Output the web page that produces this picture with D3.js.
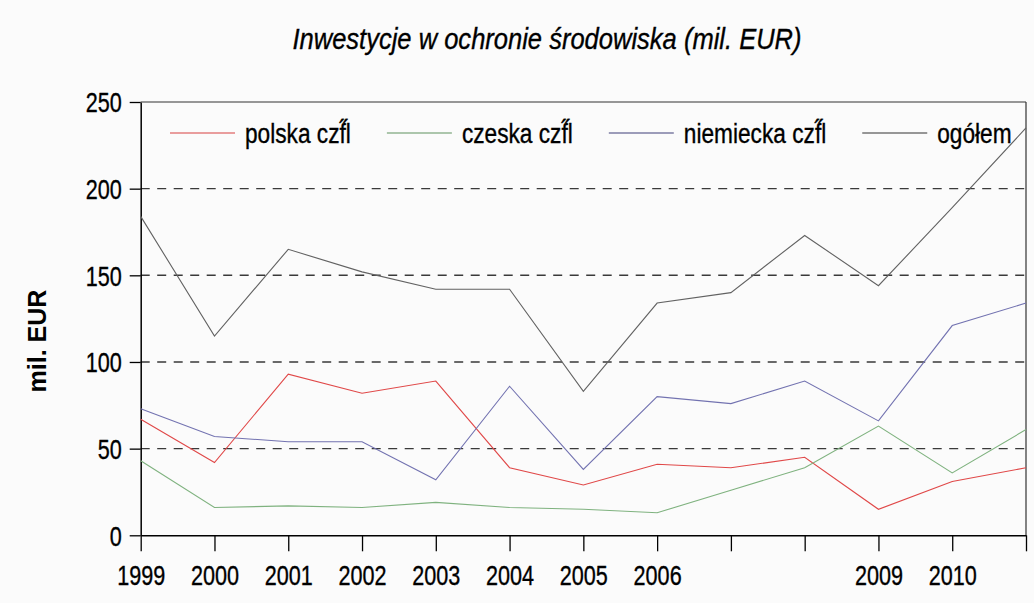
<!DOCTYPE html>
<html>
<head>
<meta charset="utf-8">
<script src="https://cdn.jsdelivr.net/npm/d3@7"></script>
<style>
  html, body { margin: 0; padding: 0; background: #fbfbfb; }
  svg { display: block; }
  text { font-family: "Liberation Sans", Arial, sans-serif; fill: #000; }
  .heavy { stroke: #000; stroke-width: 0.35px; }
</style>
</head>
<body>
<svg id="chart" width="1034" height="603"></svg>
<script>
// ---- data ----
const categories = ["1999","2000","2001","2002","2003","2004","2005","2006","2007","2008","2009","2010","2011"];
const tickLabels = ["1999","2000","2001","2002","2003","2004","2005","2006","","","2009","2010",""];
const seriesNames = ["polska czf\u030Bl", "czeska czf\u030Bl", "niemiecka czf\u030Bl", "ogółem"];
const polska    = [67, 42, 93, 82, 89, 39, 29, 41, 39, 45, 15, 31, 39];
const czeska    = [43, 16, 17, 16, 19, 16, 15, 13, 26, 39, 63, 36, 61];
const niemiecka = [73, 57, 54, 54, 32, 86, 38, 80, 76, 89, 66, 121, 134];
const ogolem    = [184, 115, 165, 152, 142, 142, 83, 134, 140, 173, 144, 189, 235];
const yTicks = [0, 50, 100, 150, 200, 250];
const title = "Inwestycje w ochronie środowiska (mil. EUR)";
const yTitle = "mil. EUR";

const seriesValues = [polska, czeska, niemiecka, ogolem];
const colors = ["#e04848", "#7fb27f", "#7272b0", "#626262"];
const legendColors = ["#d84040", "#5e925e", "#3e3e78", "#333333"];

// horizontal squeeze of text glyphs (reference uses a narrow face)
function squeeze(sel, k) {
  sel.each(function () {
    const w = this.getComputedTextLength();
    if (w > 0) d3.select(this).attr("textLength", w * k).attr("lengthAdjust", "spacingAndGlyphs");
  });
}

const svg = d3.select("#chart");
const L = 140.7, R = 1026, T = 102, B = 535.3;

const x = d3.scalePoint().domain(categories).range([L, R]);
const y = d3.scaleLinear().domain([0, 250]).range([B, T]);

// title
const tt = svg.append("text")
  .attr("x", 547).attr("y", 49)
  .attr("text-anchor", "middle")
  .attr("class", "heavy")
  .style("font-size", "29px").style("font-style", "italic")
  .text(title);
squeeze(tt, 0.88);

// y title
svg.append("text")
  .attr("transform", "translate(46,341) rotate(-90)")
  .attr("text-anchor", "middle")
  .style("font-size", "25px").style("font-weight", "bold")
  .text(yTitle);

// grid lines (dashed)
svg.append("g").selectAll("line")
  .data(yTicks.filter(v => v > 0 && v < 250))
  .join("line")
  .attr("x1", L).attr("x2", R)
  .attr("y1", d => y(d)).attr("y2", d => y(d))
  .attr("stroke", "#3a3a3a").attr("stroke-width", 1.4)
  .attr("stroke-dasharray", "9,7.5");

// frame top and right
svg.append("line").attr("x1", L).attr("x2", R).attr("y1", T).attr("y2", T)
  .attr("stroke", "#333").attr("stroke-width", 1.2);
svg.append("line").attr("x1", R).attr("x2", R).attr("y1", T).attr("y2", B)
  .attr("stroke", "#333").attr("stroke-width", 1.2);

// y axis
const yAxis = svg.append("g")
  .attr("transform", `translate(${L},0)`)
  .call(d3.axisLeft(y).tickValues(yTicks).tickSize(11).tickPadding(8).tickSizeOuter(0));
yAxis.select(".domain").attr("stroke", "#000").attr("stroke-width", 1.5);
yAxis.selectAll(".tick line").attr("stroke", "#000").attr("stroke-width", 1.3);
yAxis.selectAll(".tick text")
  .style("font-family", '"Liberation Sans", Arial, sans-serif')
  .style("font-size", "27px").attr("dy", "0.36em").attr("fill", "#000")
  .attr("class", "heavy")
  .call(squeeze, 0.8);

// x axis
const xAxis = svg.append("g")
  .attr("transform", `translate(0,${B})`)
  .call(d3.axisBottom(x).tickSize(16).tickPadding(15).tickSizeOuter(0)
    .tickFormat((d, i) => tickLabels[i]));
xAxis.select(".domain").attr("stroke", "#000").attr("stroke-width", 1.5);
xAxis.selectAll(".tick line").attr("stroke", "#000").attr("stroke-width", 1.3);
xAxis.selectAll(".tick text")
  .style("font-family", '"Liberation Sans", Arial, sans-serif')
  .style("font-size", "27px").attr("fill", "#000")
  .attr("class", "heavy")
  .call(squeeze, 0.8);

// lines
const line = d3.line().x((d, i) => x(categories[i])).y(d => y(d));
svg.append("g").selectAll("path")
  .data(seriesValues)
  .join("path")
  .attr("d", d => line(d))
  .attr("fill", "none")
  .attr("stroke", (d, i) => colors[i])
  .attr("stroke-width", 1.1);

// legend (flow layout)
const lg = svg.append("g");
let cx = 170;
const ly = 133;
seriesNames.forEach((name, i) => {
  lg.append("line").attr("x1", cx).attr("x2", cx + 65).attr("y1", ly).attr("y2", ly)
    .attr("stroke", legendColors[i]).attr("stroke-width", 1.2);
  const t = lg.append("text").attr("x", cx + 75).attr("y", ly + 10)
    .attr("class", "heavy")
    .style("font-size", "27px").text(name);
  const w = t.node().getComputedTextLength() * 0.84;
  t.attr("textLength", w).attr("lengthAdjust", "spacingAndGlyphs");
  cx = cx + 75 + w + 36;
});
</script>
</body>
</html>
